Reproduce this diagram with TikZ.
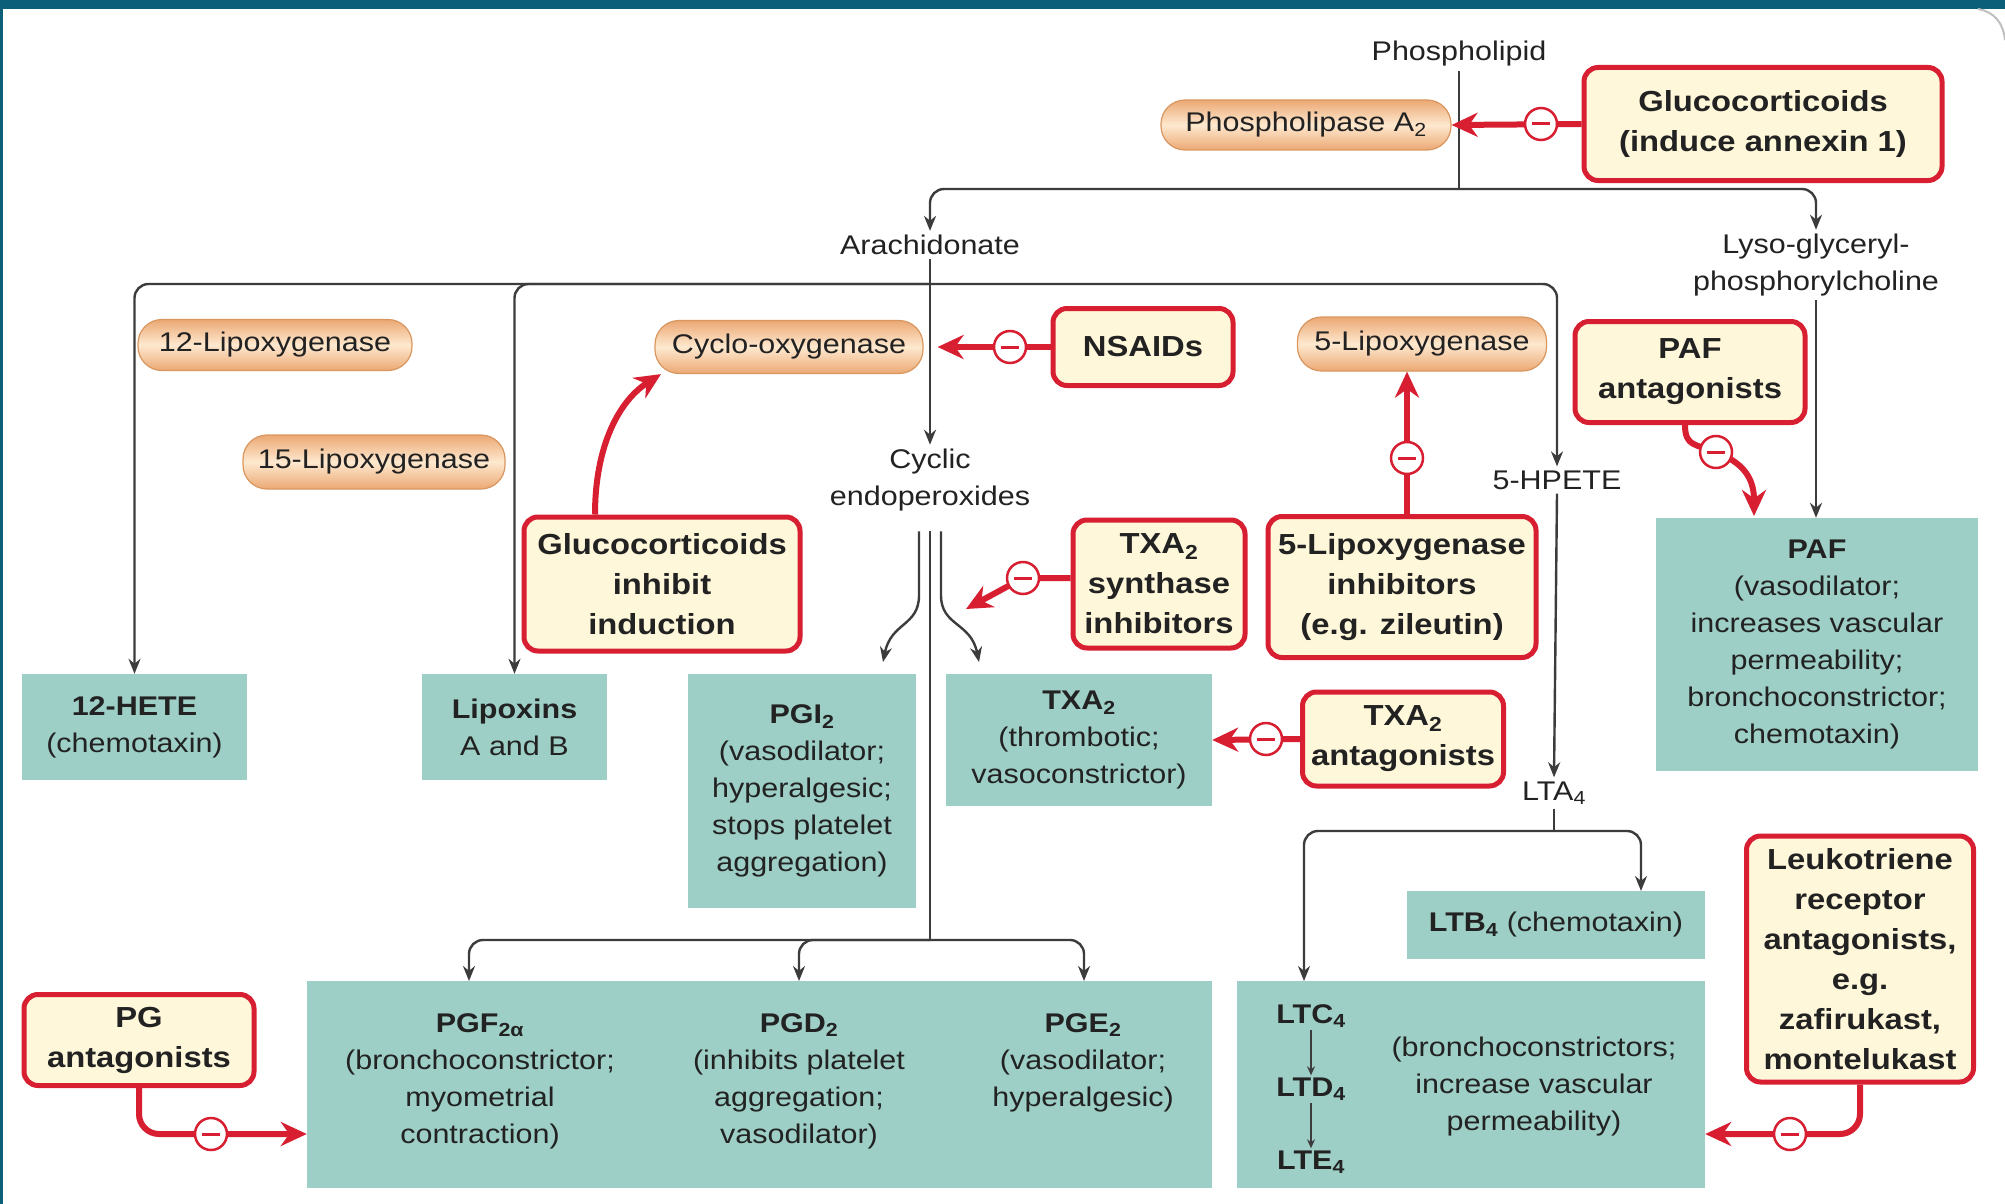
\documentclass[tikz,border=0pt]{standalone}
\usepackage{fontspec}
\setmainfont{Liberation Sans}[FakeStretch=1.13]
\usetikzlibrary{arrows.meta}
\definecolor{barc}{HTML}{0C5F79}
\definecolor{tealc}{HTML}{9DCFC6}
\definecolor{creamc}{HTML}{FEF7DA}
\definecolor{redc}{HTML}{D71F31}
\definecolor{pilledge}{HTML}{EBA874}
\definecolor{pillmid}{HTML}{FEE9CF}
\definecolor{pillline}{HTML}{D9975F}
\definecolor{linec}{HTML}{3C3C3C}
\definecolor{txtc}{HTML}{222222}
\begin{document}
\begin{tikzpicture}[x=1pt,y=-1pt,
  base/.style={font=\fontsize{27}{37}\selectfont, text=txtc, align=center, inner sep=0pt},
  plain/.style={base, inner sep=4pt},
  boldlt/.style={base, font=\bfseries\fontsize{27}{37}\selectfont, inner sep=2pt},
  tealbox/.style={base, fill=tealc},
  redbox/.style={base, font=\bfseries\fontsize{29}{40}\selectfont, draw=redc, line width=5pt, fill=creamc, rounded corners=14pt},
  pill/.style={base, rounded corners=24pt, top color=pilledge, bottom color=pilledge, middle color=pillmid, draw=pillline, line width=1.2pt},
  conn/.style={draw=linec, line width=2.4pt, rounded corners=14pt},
  arr/.style={conn, -{Stealth[length=15pt,width=12pt]}},
  smallarr/.style={draw=linec, line width=2pt, -{Stealth[length=9pt,width=8pt]}},
  inh/.style={draw=redc, line width=6pt, -{Stealth[length=26pt,width=24pt]}},
  minus/.style={circle, draw=redc, line width=2.5pt, fill=white, minimum size=32pt, inner sep=0pt,
    path picture={\draw[redc, line width=3pt] ([xshift=-9pt]path picture bounding box.center) -- ([xshift=9pt]path picture bounding box.center);}},
]
\useasboundingbox (0,0) rectangle (2005,1204);
\fill[white] (0,0) rectangle (2005,1204);
\fill[barc] (0,0) rectangle (2005,9);
\fill[barc] (0,0) rectangle (3,1204);
\draw[black!25, line width=2pt] (1978,9) .. controls (1994,12) and (2003,22) .. (2005,40);

% ---------- nodes ----------
\node[plain] (phos) at (1459,54) {Phospholipid};
\node[pill, minimum width=290pt, minimum height=50pt] (pla) at (1306,125) {Phospholipase A\textsubscript{2}};
\node[redbox, minimum width=358pt, minimum height=113pt] (gc1) at (1763,124) {Glucocorticoids\\(induce annexin 1)};
\node[plain] (arach) at (930,245) {Arachidonate};
\node[plain] (lyso) at (1816,265) {Lyso-glyceryl-\\phosphorylcholine};
\node[pill, minimum width=274pt, minimum height=51pt] (lox12) at (275,345) {12-Lipoxygenase};
\node[pill, minimum width=268pt, minimum height=53pt] (cox) at (789,347) {Cyclo-oxygenase};
\node[pill, minimum width=262pt, minimum height=54pt] (lox15) at (374,462) {15-Lipoxygenase};
\node[pill, minimum width=249pt, minimum height=54pt] (lox5) at (1422,344) {5-Lipoxygenase};
\node[redbox, minimum width=180pt, minimum height=77pt] (nsaid) at (1143,347) {NSAIDs};
\node[redbox, minimum width=276pt, minimum height=134pt] (gc2) at (662,584) {Glucocorticoids\\inhibit\\induction};
\node[redbox, minimum width=172pt, minimum height=128pt] (txsi) at (1159,584) {TXA\textsubscript{2}\\synthase\\inhibitors};
\node[redbox, minimum width=268pt, minimum height=141pt] (lox5i) at (1402,587) {5-Lipoxygenase\\inhibitors\\(e.g. zileutin)};
\node[redbox, minimum width=230pt, minimum height=101pt] (pafa) at (1690,372) {PAF\\antagonists};
\node[redbox, minimum width=201pt, minimum height=94pt] (txaa) at (1403,739) {TXA\textsubscript{2}\\antagonists};
\node[redbox, minimum width=230pt, minimum height=91pt] (pga) at (139,1040) {PG\\antagonists};
\node[redbox, minimum width=227pt, minimum height=246pt] (lta2) at (1860,959) {Leukotriene\\receptor\\antagonists,\\e.g.\\zafirukast,\\montelukast};

\node[plain] (cyc) at (930,480) {Cyclic\\endoperoxides};
\node[plain] (hpete) at (1557,480) {5-HPETE};
\node[plain] (lta) at (1554,793) {LTA\textsubscript{4}};

\node[tealbox, minimum width=225pt, minimum height=106pt] (hete) at (134.5,727) {\textbf{12-HETE}\\(chemotaxin)};
\node[tealbox, minimum width=185pt, minimum height=106pt] (lipox) at (514.5,727) {\textbf{Lipoxins}\\A and B};
\node[tealbox, minimum width=228pt, minimum height=234pt] (pgi) at (802,791) {\textbf{PGI\textsubscript{2}}\\(vasodilator;\\hyperalgesic;\\stops platelet\\aggregation)};
\node[tealbox, minimum width=266pt, minimum height=132pt] (txa) at (1079,740) {\textbf{TXA\textsubscript{2}}\\(thrombotic;\\vasoconstrictor)};
\node[tealbox, minimum width=322pt, minimum height=253pt] (paf) at (1817,644.5) {\textbf{PAF}\\(vasodilator;\\increases vascular\\permeability;\\bronchoconstrictor;\\chemotaxin)};
\node[tealbox, minimum width=298pt, minimum height=68pt] (ltb) at (1556,925) {\textbf{LTB\textsubscript{4}} (chemotaxin)};
\node[tealbox, minimum width=905pt, minimum height=207pt] (pgbox) at (759.5,1084.5) {};
\node[tealbox, minimum width=468pt, minimum height=207pt] (ltcbox) at (1471,1084.5) {};

\node[base, anchor=north] (pgf) at (480,1013) {\textbf{PGF\textsubscript{2α}}\\(bronchoconstrictor;\\myometrial\\contraction)};
\node[base, anchor=north] (pgd) at (799,1013) {\textbf{PGD\textsubscript{2}}\\(inhibits platelet\\aggregation;\\vasodilator)};
\node[base, anchor=north] (pge) at (1083,1013) {\textbf{PGE\textsubscript{2}}\\(vasodilator;\\hyperalgesic)};

\node[boldlt] (ltc) at (1311,1016) {LTC\textsubscript{4}};
\node[boldlt] (ltd) at (1311,1089) {LTD\textsubscript{4}};
\node[boldlt] (lte) at (1311,1162) {LTE\textsubscript{4}};
\node[base] (ltctext) at (1534,1087) {(bronchoconstrictors;\\increase vascular\\permeability)};

% ---------- black connectors ----------
\coordinate (j1) at (1459,189);
\draw[conn] (phos.south) -- (j1);
\draw[arr] (j1) -| (arach.north);
\draw[arr] (j1) -| (lyso.north);

\coordinate (j2) at (930,284);
\draw[conn] (arach.south) -- (j2);
\draw[arr] (j2) -- (cyc.north);
\draw[arr] (j2) -| (hete.north);
\draw[arr] (j2) -| (lipox.north);
\draw[arr] (j2) -| (hpete.north);

\coordinate (pgitip) at (883,662);
\coordinate (txatip) at (979,662);
\draw[arr] ([xshift=-11pt,yshift=-16pt]cyc.south) -- ++(0,50) .. controls +(0,45) and +(8,-40) .. (pgitip);
\draw[arr] ([xshift=11pt,yshift=-16pt]cyc.south) -- ++(0,50) .. controls +(0,45) and +(-8,-40) .. (txatip);
\coordinate (j3) at (930,940);
\draw[conn] ([yshift=-16pt]cyc.south) -- (j3);
\coordinate (tF) at (469,981);
\coordinate (tD) at (799,981);
\coordinate (tE) at (1084,981);
\draw[arr] (j3) -| (tF);
\draw[arr] (j3) -| (tD);
\draw[arr] (j3) -| (tE);

\draw[arr] (hpete.south) -- (lta.north);
\coordinate (j4) at (1554,831);
\coordinate (tC) at (1304,981);
\coordinate (tB) at (1641,891);
\draw[conn] (lta.south) -- (j4);
\draw[arr] (j4) -| (tC);
\draw[arr] (j4) -| (tB);
\draw[arr] (lyso.south) -- (lyso.south |- paf.north);

\draw[smallarr] (ltc) -- (ltd);
\draw[smallarr] (ltd) -- (lte);

% ---------- red inhibitory connectors ----------
\coordinate (c1) at (1541,124);
\coordinate (c2) at (1010,347);
\coordinate (c5) at (1023,578);
\coordinate (c6) at (1407,458);
\coordinate (c7) at (1716,452);
\coordinate (c8) at (1266,739);
\coordinate (c9) at (211,1134);
\coordinate (c10) at (1790,1134);
\coordinate (txtip) at (966,609);
\coordinate (paftip) at (1754,516);

\draw[inh] (gc1.west) -- (pla.east);
\draw[inh] (nsaid.west) -- ([xshift=14pt]cox.east);
\draw[inh] ([xshift=-67pt]gc2.north) .. controls +(0,-70) and +(-41,26) .. ([xshift=-128pt]cox.south);
\draw[inh] (txsi.west |- c5) -- (c5) -- (txtip);
\draw[inh] (lox5i.north -| c6) -- (lox5.south -| c6);
\draw[inh] ([xshift=-5pt]pafa.south) .. controls +(0,22) and +(-20,-8) .. (c7) .. controls +(25,10) and +(0,-40) .. (paftip);
\draw[inh] (txaa.west) -- (txa.east);
\draw[inh, rounded corners=20pt] (pga.south) |- (pgbox.west |- c9);
\draw[inh, rounded corners=20pt] (lta2.south) |- (ltcbox.east |- c10);

\node[minus] (m1) at (c1) {};
\node[minus] (m2) at (c2) {};
\node[minus] (m5) at (c5) {};
\node[minus] (m6) at (c6) {};
\node[minus] (m7) at (c7) {};
\node[minus] (m8) at (c8) {};
\node[minus] (m9) at (c9) {};
\node[minus] (m10) at (c10) {};
\end{tikzpicture}
\end{document}
